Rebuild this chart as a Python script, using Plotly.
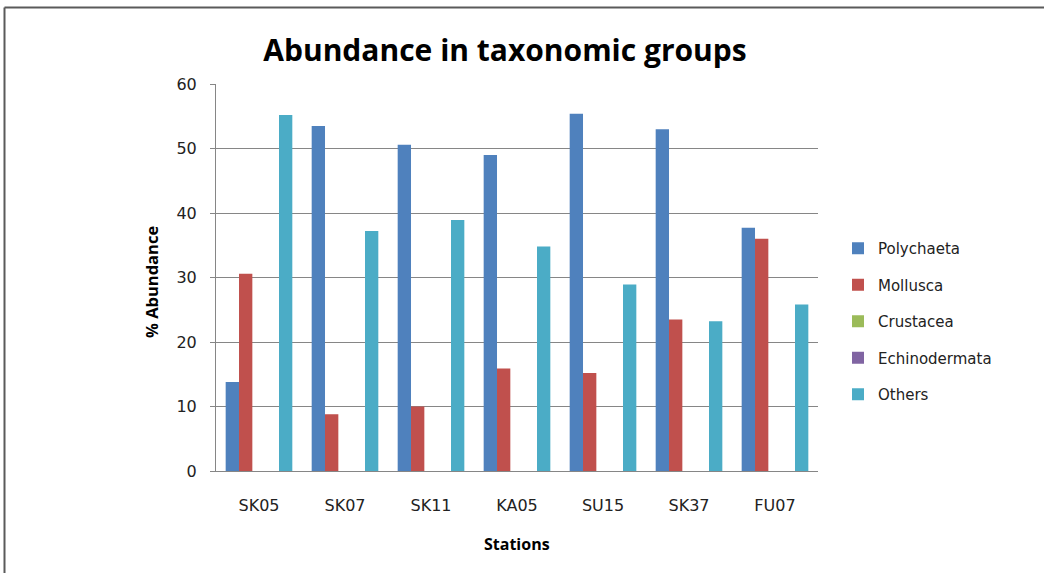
import plotly.graph_objects as go

# Station categories and percentage abundance by taxonomic group
stations = ["SK05", "SK07", "SK11", "KA05", "SU15", "SK37", "FU07"]
polychaeta = [13.8, 53.5, 50.6, 49.0, 55.4, 53.0, 37.7]
mollusca = [30.6, 8.8, 10.0, 15.9, 15.2, 23.5, 36.0]
crustacea = [0, 0, 0, 0, 0, 0, 0]
echinodermata = [0, 0, 0, 0, 0, 0, 0]
others = [55.2, 37.2, 38.9, 34.8, 28.9, 23.2, 25.8]

y_ticks = [0, 10, 20, 30, 40, 50, 60]

series = [
    ("Polychaeta", polychaeta, "#4F81BD"),
    ("Mollusca", mollusca, "#C0504D"),
    ("Crustacea", crustacea, "#9BBB59"),
    ("Echinodermata", echinodermata, "#8064A2"),
    ("Others", others, "#4BACC6"),
]

TITLE_FONT = "'Open Sans', Lato, sans-serif"
TEXT_FONT = "'DejaVu Sans', Verdana, sans-serif"

fig = go.Figure()
for i, (name, vals, color) in enumerate(series):
    fig.add_trace(go.Bar(
        name=name, x=stations, y=vals,
        marker=dict(color=color, line=dict(width=0)),
        legendgroup=f"g{i}",
    ))

W, H = 1044, 573
L, R, T, B = 216, 226, 84, 102
pw, ph = W - L - R, H - T - B

def px_x(p):
    return (p - L) / pw

def px_y(p):
    return (H - B - p) / ph

fig.update_layout(
    width=W, height=H,
    margin=dict(l=L, r=R, t=T, b=B, autoexpand=False),
    paper_bgcolor="white", plot_bgcolor="white",
    barmode="group", bargap=0.225, bargroupgap=0,
    font=dict(family=TEXT_FONT, size=15, color="#222"),
    title=dict(
        text="<b>Abundance in taxonomic groups</b>",
        x=505 / W, xanchor="center", xref="container",
        y=1 - 50 / H, yanchor="middle", yref="container",
        font=dict(family=TITLE_FONT, size=30, color="#000"),
    ),
    xaxis=dict(
        showgrid=False, showline=True, linecolor="#868686", linewidth=1,
        ticks="", ticklabelstandoff=20,
        tickfont=dict(family=TEXT_FONT, size=16, color="#222"),
    ),
    yaxis=dict(
        range=[0, 60], tickvals=y_ticks,
        showgrid=True, gridcolor="#868686", gridwidth=1,
        showline=True, linecolor="#868686", linewidth=1,
        ticks="outside", ticklen=5, tickcolor="#868686",
        ticklabelstandoff=10, zeroline=False,
        tickfont=dict(family=TEXT_FONT, size=16, color="#222"),
    ),
    legend=dict(
        x=px_x(838), xanchor="left", y=px_y(232), yanchor="top",
        font=dict(family=TEXT_FONT, size=15, color="#222"),
        traceorder="grouped", tracegroupgap=14,
        itemwidth=30, bgcolor="rgba(0,0,0,0)",
    ),
    annotations=[
        dict(text="<b>% Abundance</b>", textangle=-90,
             x=px_x(151), y=px_y(282), xref="paper", yref="paper",
             showarrow=False, xanchor="center", yanchor="middle",
             font=dict(family=TITLE_FONT, size=16.5, color="#000")),
        dict(text="<b>Stations</b>",
             x=px_x(517), y=px_y(544), xref="paper", yref="paper",
             showarrow=False, xanchor="center", yanchor="middle",
             font=dict(family=TITLE_FONT, size=16, color="#000")),
    ],
    shapes=[
        dict(type="line", xref="paper", yref="paper",
             x0=px_x(4.5), x1=px_x(4.5), y0=px_y(7.5), y1=px_y(600),
             line=dict(color="#5a5a5a", width=2)),
        dict(type="line", xref="paper", yref="paper",
             x0=px_x(4.5), x1=px_x(1100), y0=px_y(7.5), y1=px_y(7.5),
             line=dict(color="#5a5a5a", width=2)),
    ],
)

fig.write_html("out.html")
